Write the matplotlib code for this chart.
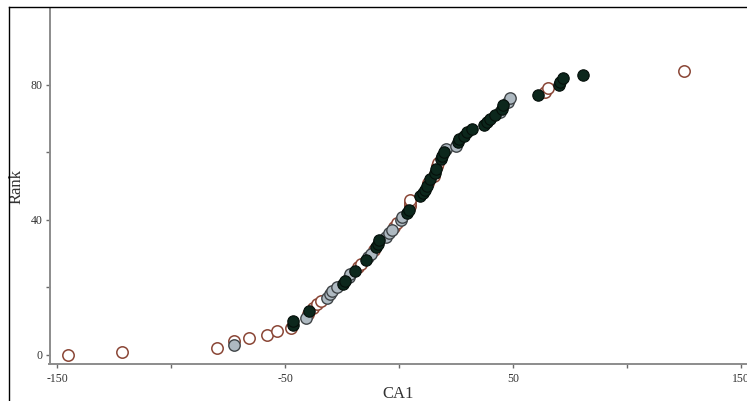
import matplotlib
matplotlib.use("Agg")
import matplotlib.pyplot as plt
from matplotlib.lines import Line2D

# Data (CA1 score, rank)
open_x = [-145.4, -121.7, -79.8, -72.4, -65.6, -58.1, -53.7, -47.6, -40.1, -37.9,
          -36.2, -34.4, -18.2, -16.9, -11.2, -2.0, -1.1, 4.6, 4.8, 5.0,
          12.5, 15.2, 16.8, 17.2, 64.0, 65.5, 124.8]
open_rank = [0, 1, 2, 4, 5, 6, 7, 8, 12, 14,
             15, 16, 26, 27, 31, 38, 39, 44, 45, 46,
             51, 53, 56, 57, 78, 79, 84]

black_x = [-46.7, -46.3, -39.3, -24.7, -23.9, -19.5, -14.7, -9.9, -9.4, -8.6,
           3.3, 4.2, 9.4, 10.3, 11.6, 12.1, 13.6, 15.6, 16.0, 18.3,
           19.0, 19.5, 25.7, 26.5, 28.7, 30.0, 31.8, 37.1, 38.4, 39.7,
           42.3, 45.0, 45.8, 60.8, 70.0, 70.6, 71.7, 80.5]
black_rank = [9, 10, 13, 21, 22, 25, 28, 32, 33, 34,
              42, 43, 47, 48, 49, 50, 52, 54, 55, 58,
              59, 60, 63, 64, 65, 66, 67, 68, 69, 70,
              71, 73, 74, 77, 80, 81, 82, 83]

gray_x = [-72.6, -40.6, -31.8, -30.5, -29.2, -27.0, -22.1, -21.7, -13.8, -12.5,
          -5.9, -4.2, -2.9, 0.7, 1.5, 20.4, 25.1, 44.1, 48.0, 48.5]
gray_rank = [3, 11, 17, 18, 19, 20, 23, 24, 29, 30,
             35, 36, 37, 40, 41, 61, 62, 72, 75, 76]

x_ticks = [-150, -100, -50, 0, 50, 100, 150]
x_tick_labels = ["-150", "", "-50", "", "50", "", "150"]
y_ticks = [0, 20, 40, 60, 80]
y_tick_labels = ["0", "", "40", "", "80"]

plt.rcParams['font.family'] = ['Liberation Serif', 'DejaVu Serif']

W, H = 747, 401
fig = plt.figure(figsize=(W / 100, H / 100), dpi=100, facecolor="white")
ax = fig.add_axes([49.5 / W, (H - 364) / H, 1 - 49.5 / W, (364 - 8) / H])
ax.set_facecolor("white")

ms = 8.2
ax.plot(open_x, open_rank, 'o', ms=ms, mfc='white', mec='#8a4636', mew=1.1, ls='none', zorder=3)
ax.plot(gray_x, gray_rank, 'o', ms=ms, mfc='#aeb9c1', mec='#3f4447', mew=1.0, ls='none', zorder=4)
ax.plot(black_x, black_rank, 'o', ms=ms, mfc='#0c271c', mec='#050f0a', mew=0.8, ls='none', zorder=5)

ax.set_xlim(-153.3, 152.6)
ax.set_ylim(-2.67, 102.8)

ax.set_xticks(x_ticks)
ax.set_xticklabels(x_tick_labels)
ax.set_yticks(y_ticks)
ax.set_yticklabels(y_tick_labels)

for s in ['top', 'right']:
    ax.spines[s].set_visible(False)
for s in ['left', 'bottom']:
    ax.spines[s].set_color('#8c8c8c')
    ax.spines[s].set_linewidth(1.4)

ax.tick_params(axis='both', colors='#6a6a6a', length=3, width=1, labelsize=8.5,
               labelcolor='#333333', direction='out')
ax.tick_params(axis='x', pad=3.5)
ax.tick_params(axis='y', pad=2)

ax.set_xlabel("CA1", fontsize=12, color='#333333', labelpad=1)
ax.set_ylabel("Rank", fontsize=12, color='#333333', labelpad=4)

# outer frame (left and top edges visible)
fig.add_artist(Line2D([8.5 / W, 8.5 / W], [0, 1 - 7 / H], color='black', lw=1.0, transform=fig.transFigure))
fig.add_artist(Line2D([8.5 / W, 1], [1 - 7 / H, 1 - 7 / H], color='black', lw=1.0, transform=fig.transFigure))

fig.savefig("out.png", dpi=100, facecolor="white")
